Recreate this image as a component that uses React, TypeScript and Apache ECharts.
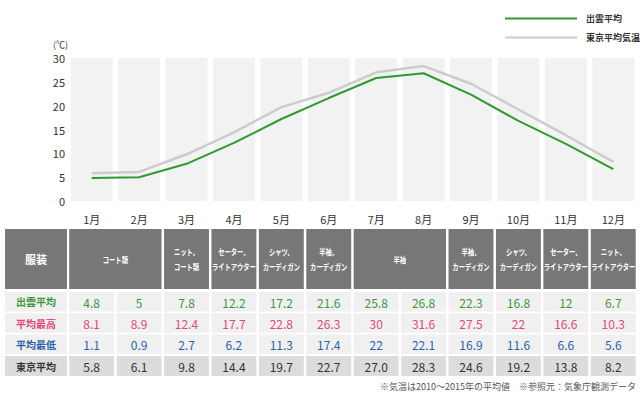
import React, { useEffect, useRef } from "react";
import * as echarts from "echarts";

const months = ["1月", "2月", "3月", "4月", "5月", "6月", "7月", "8月", "9月", "10月", "11月", "12月"];
const izumoAvg = [4.8, 5, 7.8, 12.2, 17.2, 21.6, 25.8, 26.8, 22.3, 16.8, 12, 6.7];
const izumoMax = [8.1, 8.9, 12.4, 17.7, 22.8, 26.3, 30, 31.6, 27.5, 22, 16.6, 10.3];
const izumoMin = [1.1, 0.9, 2.7, 6.2, 11.3, 17.4, 22, 22.1, 16.9, 11.6, 6.6, 5.6];
const tokyoAvg = [5.8, 6.1, 9.8, 14.4, 19.7, 22.7, 27.0, 28.3, 24.6, 19.2, 13.8, 8.2];
const clothingLabels = [
  "コート類",
  "ニット、\nコート類",
  "セーター、\nライトアウター",
  "シャツ、\nカーディガン",
  "半袖、\nカーディガン",
  "半袖",
  "半袖、\nカーディガン",
  "シャツ、\nカーディガン",
  "セーター、\nライトアウター",
  "ニット、\nライトアウター",
];
const clothingSpans = [2, 1, 1, 1, 1, 2, 1, 1, 1, 1];
const rowLabels = ["出雲平均", "平均最高", "平均最低", "東京平均"];
const seriesNames = ["出雲平均", "東京平均気温"];
const note = "※気温は2010～2015年の平均値　※参照元：気象庁観測データ";

const FONT = "'Noto Sans CJK JP', 'Noto Sans', sans-serif";
const GREEN = "#2f9a2f";
const GRAY_LINE = "#cccccc";

export default function App() {
  const ref = useRef<HTMLDivElement>(null);
  useEffect(() => {
    if (!ref.current) return;
    const chart = echarts.init(ref.current, null, { renderer: "svg" });
    chart.setOption({
      animation: false,
      textStyle: { fontFamily: FONT },
      grid: { left: 68, right: 3, top: 58, height: 143 },
      legend: {
        data: seriesNames,
        orient: "vertical",
        left: 500,
        top: 9,
        icon: "rect",
        itemWidth: 72,
        itemHeight: 2,
        itemGap: 10,
        textStyle: { fontSize: 9, fontWeight: "bold", color: "#333", fontFamily: FONT, padding: [0, 0, 0, 4] },
      },
      xAxis: {
        type: "category",
        data: months,
        axisLine: { show: false },
        axisTick: { show: false },
        axisLabel: { fontSize: 11, color: "#333", margin: 12, fontFamily: FONT },
      },
      yAxis: {
        type: "value",
        min: 0,
        max: 30,
        interval: 5,
        name: "(℃)",
        nameGap: 9,
        nameTextStyle: { fontSize: 9, color: "#333", align: "right", padding: [0, 0, 0, 0] },
        axisLine: { show: false },
        axisTick: { show: false },
        splitLine: { show: false },
        axisLabel: { fontSize: 11, color: "#333", margin: 3, fontFamily: FONT },
      },
      series: [
        {
          type: "bar",
          name: "bg",
          data: izumoAvg,
          barWidth: 42,
          silent: true,
          itemStyle: { color: "rgba(0,0,0,0)" },
          showBackground: true,
          backgroundStyle: { color: "#f2f2f2" },
          z: 1,
        },
        {
          type: "line",
          name: seriesNames[1],
          data: tokyoAvg,
          showSymbol: false,
          lineStyle: { color: GRAY_LINE, width: 2.5 },
          itemStyle: { color: GRAY_LINE },
          z: 3,
        },
        {
          type: "line",
          name: seriesNames[0],
          data: izumoAvg,
          showSymbol: false,
          lineStyle: { color: GREEN, width: 2 },
          itemStyle: { color: GREEN },
          z: 4,
        },
      ],
    });

    const cx = (i: number) => chart.convertToPixel({ xAxisIndex: 0 }, i) as number;
    const pitch = cx(1) - cx(0);
    const cellX = (i: number) => cx(i) - pitch / 2 + 1.2;
    const cellW = pitch - 2.5;
    const els: any[] = [];
    const rect = (x: number, y: number, w: number, h: number, fill: string) =>
      els.push({ type: "rect", shape: { x, y, width: w, height: h }, style: { fill }, silent: true });
    const text = (
      x: number,
      y: number,
      t: string,
      fill: string,
      fontSize: number,
      fontWeight = "normal",
      lineHeight = 14,
      scaleX = 1
    ) =>
      els.push({
        type: "text",
        silent: true,
        x,
        y,
        scaleX,
        style: { x: 0, y: 0, text: t, fill, fontSize, fontWeight, fontFamily: FONT, align: "center", verticalAlign: "middle", lineHeight },
      });

    // header
    const headY = 229, headH = 60;
    const HEAD = "#777777";
    rect(5, headY, 62, headH, HEAD);
    text(36, headY + headH / 2, "服装", "#fff", 11, "bold");
    let idx = 0;
    clothingLabels.forEach((lab, k) => {
      const span = clothingSpans[k];
      const x0 = cellX(idx);
      const x1 = cellX(idx + span - 1) + cellW;
      rect(x0, headY, x1 - x0, headH, HEAD);
      text((x0 + x1) / 2, headY + headH / 2, lab, "#fff", 8.5, "bold", 15, 0.74);
      idx += span;
    });

    const rowY = [292, 313.3, 334.6, 356];
    const rowH = [19.5, 19.5, 19.5, 20];
    const rowColors = ["#3a9a3a", "#e2477f", "#2a62aa", "#333333"];
    const rowFill = ["#f0f0f0", "#f0f0f0", "#f0f0f0", "#dcdcdc"];
    const rowData = [izumoAvg, izumoMax, izumoMin, tokyoAvg];
    rowData.forEach((vals, r) => {
      rect(5, rowY[r], 62, rowH[r], rowFill[r]);
      text(36, rowY[r] + rowH[r] / 2, rowLabels[r], rowColors[r], 10, "bold");
      vals.forEach((v, i) => {
        const x0 = cellX(i);
        rect(x0, rowY[r], cellW, rowH[r], rowFill[r]);
        const label = r === 3 ? v.toFixed(1) : String(v);
        text(x0 + cellW / 2, rowY[r] + rowH[r] / 2 + 0.5, label, rowColors[r], 12);
      });
    });

    els.push({
      type: "text",
      silent: true,
      style: { x: 636, y: 386, text: note, fill: "#555", fontSize: 9, fontFamily: FONT, align: "right", verticalAlign: "middle" },
    });

    chart.setOption({ graphic: els });
    return () => chart.dispose();
  }, []);
  return <div ref={ref} style={{ width: 640, height: 400, position: "absolute", left: 0, top: 0, background: "#fff" }} />;
}
